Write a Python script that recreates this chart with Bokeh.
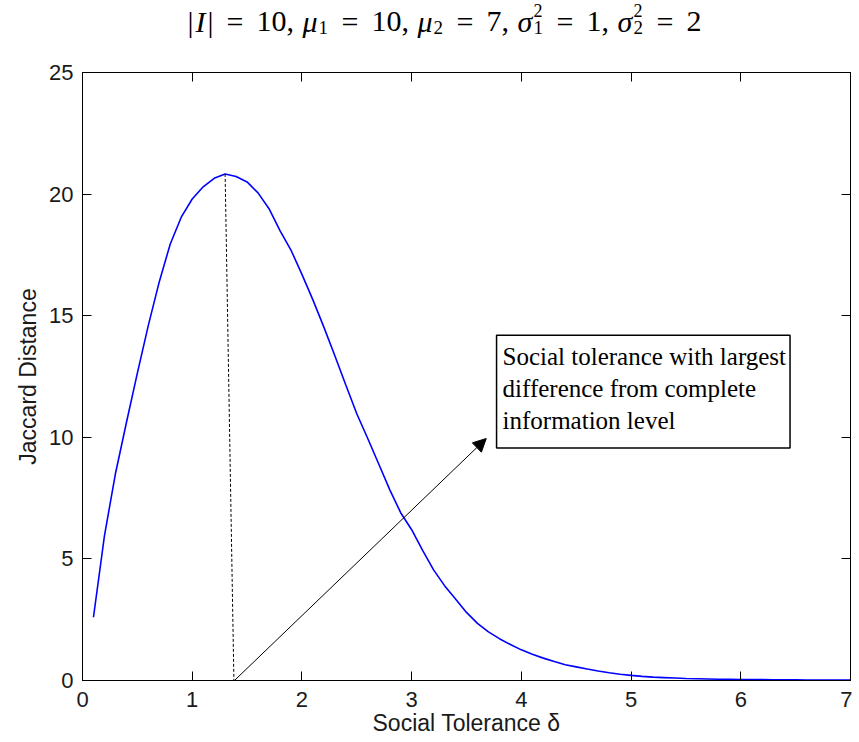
from bokeh.plotting import figure
from bokeh.models import (Range1d, LinearAxis, Label, Arrow, NormalHead, ColumnDataSource,
                          FixedTicker, CustomJSTickFormatter)
from bokeh.layouts import column
from bokeh.embed import file_html
from bokeh.resources import INLINE
from bokeh.core.properties import value

# ---------------- data ----------------
delta = [0.1, 0.2, 0.3, 0.4, 0.5, 0.6, 0.7, 0.8, 0.9, 1.0,
         1.1, 1.2, 1.3, 1.4, 1.5, 1.6, 1.7, 1.8, 1.9, 2.0,
         2.1, 2.2, 2.3, 2.4, 2.5, 2.6, 2.7, 2.8, 2.9, 3.0,
         3.1, 3.2, 3.3, 3.4, 3.5, 3.6, 3.7, 3.8, 3.9, 4.0,
         4.1, 4.2, 4.3, 4.4, 4.5, 4.6, 4.7, 4.8, 4.9, 5.0,
         5.1, 5.2, 5.3, 5.4, 5.5, 5.6, 5.7, 5.8, 5.9, 6.0,
         6.1, 6.2, 6.3, 6.4, 6.5, 6.6, 6.7, 6.8, 6.9, 7.0]
jaccard = [2.6, 5.95, 8.5, 10.6, 12.64, 14.6, 16.4, 17.95, 19.05, 19.8,
           20.3, 20.65, 20.83, 20.72, 20.5, 20.05, 19.4, 18.5, 17.7, 16.7,
           15.65, 14.53, 13.35, 12.15, 10.97, 9.95, 8.9, 7.85, 6.9, 6.2,
           5.35, 4.55, 3.9, 3.35, 2.8, 2.35, 2.0, 1.72, 1.48, 1.26,
           1.08, 0.92, 0.78, 0.65, 0.56, 0.47, 0.39, 0.32, 0.26, 0.21,
           0.17, 0.14, 0.12, 0.10, 0.08, 0.07, 0.06, 0.05, 0.05, 0.04,
           0.04, 0.035, 0.03, 0.03, 0.025, 0.02, 0.02, 0.02, 0.015, 0.015]

peak_x = [1.3, 1.38]
peak_y = [20.83, 0.0]

arrow_x = [1.385, 3.68]
arrow_y = [0.0, 9.95]

note_x = 3.774
note_y = 14.2
note_text = "Social tolerance with largest\ndifference from complete\ninformation level"

x_ticks = [0, 1, 2, 3, 4, 5, 6, 7]
y_ticks = [0, 5, 10, 15, 20, 25]

x_label = "Social Tolerance \u03b4"
y_label = "Jaccard Distance"

# title pieces: text, role, left position (px) -- used to stack sub/superscripts
title_text = ["|", "I", "|", "=", "10,", "\u03bc", "1", "=", "10,", "\u03bc", "2",
              "=", "7,", "\u03c3", "2", "1", "=", "1,", "\u03c3", "2", "2", "=", "2"]
title_role = ["n", "i", "n", "n", "n", "i", "sub", "n", "n", "i", "sub",
              "n", "n", "i", "sup", "sub", "n", "n", "i", "sup", "sub", "n", "n"]
title_left = [187, 195, 207, 226, 256, 302, 318, 341, 371, 417, 433,
              456, 486, 517, 533, 533, 556, 586, 617, 633, 633, 656, 686]

W = 852
HEAD_H = 58
FRAME_L, FRAME_R = 82, 850

# ---------------- header (title) ----------------
head = figure(width=W, height=HEAD_H, x_range=Range1d(FRAME_L, FRAME_R), y_range=Range1d(0, HEAD_H),
              toolbar_location=None, output_backend="svg", min_border=0,
              min_border_left=FRAME_L, min_border_right=W - FRAME_R,
              x_axis_location=None, y_axis_location=None)
head.grid.visible = False
head.outline_line_color = None
head.background_fill_color = "white"
head.border_fill_color = "white"

base_y = {"n": 37, "i": 37, "sub": 31, "sup": 48}
size_of = {"n": "30px", "i": "30px", "sub": "19px", "sup": "18px"}
style_of = {"n": "normal", "i": "italic", "sub": "normal", "sup": "normal"}
hsrc = ColumnDataSource(dict(
    x=title_left,
    y=[base_y[r] for r in title_role],
    text=title_text,
    size=[size_of[r] for r in title_role],
    style=[style_of[r] for r in title_role],
))
head.text(x="x", y="y", text="text", source=hsrc, text_font=value("Liberation Serif"),
          text_font_size="size", text_font_style="style", text_color="black",
          text_align="left", text_baseline="alphabetic")

# ---------------- main plot ----------------
p = figure(width=W, height=14 + 608 + 60, x_range=Range1d(0, 7), y_range=Range1d(0, 25),
           toolbar_location=None, output_backend="svg",
           min_border_left=FRAME_L, min_border_right=W - FRAME_R, min_border_top=14,
           min_border_bottom=60)
p.grid.visible = False
p.background_fill_color = "white"
p.border_fill_color = "white"
p.outline_line_color = "black"
p.outline_line_width = 1

tick_font = "Liberation Sans"
for ax in (p.xaxis[0], p.yaxis[0]):
    ax.axis_line_color = "black"
    ax.major_tick_line_color = "black"
    ax.major_tick_in = 9
    ax.major_tick_out = 0
    ax.minor_tick_line_color = None
    ax.major_label_text_font = tick_font
    ax.major_label_text_font_size = "22px"
    ax.major_label_text_color = "#1a1a1a"
    ax.axis_label_text_font = tick_font
    ax.axis_label_text_font_size = "23px"
    ax.axis_label_text_font_style = "normal"
    ax.axis_label_text_color = "#1a1a1a"

p.xaxis[0].ticker = FixedTicker(ticks=x_ticks)
p.yaxis[0].ticker = FixedTicker(ticks=y_ticks)
p.xaxis[0].axis_label = x_label
p.yaxis[0].axis_label = y_label
p.xaxis[0].major_label_standoff = 11
p.xaxis[0].axis_label_standoff = 0
p.yaxis[0].major_label_standoff = 9
p.yaxis[0].axis_label_standoff = 5

blank = CustomJSTickFormatter(code="return ''")
top_ax = LinearAxis(ticker=FixedTicker(ticks=x_ticks), formatter=blank, major_tick_in=9,
                    major_tick_out=0, minor_tick_line_color=None, axis_line_color="black",
                    major_label_standoff=0)
right_ax = LinearAxis(ticker=FixedTicker(ticks=y_ticks), formatter=blank, major_tick_in=9,
                      major_tick_out=0, minor_tick_line_color=None, axis_line_color="black",
                      major_label_standoff=0)
p.add_layout(top_ax, "above")
p.add_layout(right_ax, "right")

src = ColumnDataSource(dict(x=delta, y=jaccard))
p.line("x", "y", source=src, line_color="#0000ff", line_width=1.6)

p.line(peak_x, peak_y, line_color="black", line_width=1, line_dash="3 2")

p.add_layout(Arrow(x_start=arrow_x[0], y_start=arrow_y[0], x_end=arrow_x[1], y_end=arrow_y[1],
                   line_color="black", line_width=1,
                   end=NormalHead(size=13, fill_color="black", line_color="black")))

p.add_layout(Label(x=note_x, y=note_y, anchor="top_left", text=note_text,
                   text_font="Liberation Serif", text_font_size="25px", text_line_height=1.18,
                   text_color="black", padding=dict(left=6, right=4, top=8, bottom=14),
                   border_line_color="black", border_line_width=1.5,
                   background_fill_color="white"))

layout = column(head, p)
open("out.html", "w").write(file_html(layout, INLINE))
